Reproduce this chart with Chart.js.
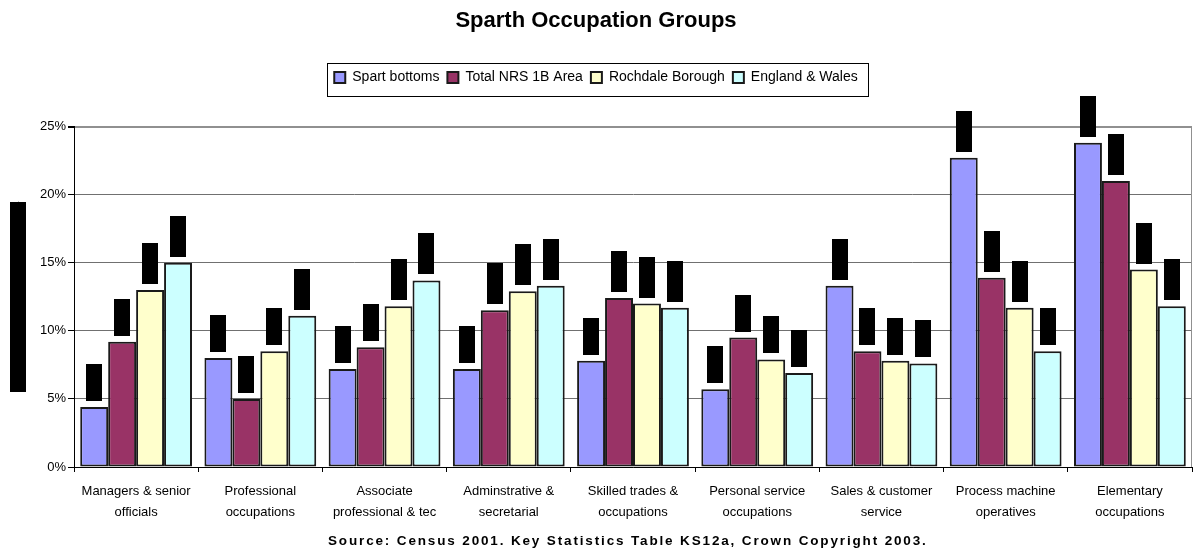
<!DOCTYPE html>
<html>
<head>
<meta charset="utf-8">
<title>Sparth Occupation Groups</title>
<script src="https://cdn.jsdelivr.net/npm/chart.js@4.4.0/dist/chart.umd.min.js"></script>
<style>
  html, body { margin: 0; padding: 0; background: #fff; }
  canvas { display: block; }
</style>
</head>
<body>
<canvas id="grafik" width="1193" height="549"></canvas>
<script>
const kategori = [
    ['Managers & senior', 'officials'],
    ['Professional', 'occupations'],
    ['Associate', 'professional & tec'],
    ['Adminstrative &', 'secretarial'],
    ['Skilled trades &', 'occupations'],
    ['Personal service', 'occupations'],
    ['Sales & customer', 'service'],
    ['Process machine', 'operatives'],
    ['Elementary', 'occupations']
];

const namaSeri = ['Spart bottoms', 'Total NRS 1B Area', 'Rochdale Borough', 'England & Wales'];
const warnaSeri = ['#9999FF', '#993366', '#FFFFCC', '#CCFFFF'];

const spartBottoms = [4.4, 8.0, 7.2, 7.2, 7.8, 5.7, 13.3, 22.7, 23.8];
const totalNrs = [9.2, 5.0, 8.8, 11.5, 12.4, 9.5, 8.5, 13.9, 21.0];
const rochdale = [13.0, 8.5, 11.8, 12.9, 12.0, 7.9, 7.8, 11.7, 14.5];
const englandWales = [15.0, 11.1, 13.7, 13.3, 11.7, 6.9, 7.6, 8.5, 11.8];

const tickY = [0, 5, 10, 15, 20, 25];

const judul = 'Sparth Occupation Groups';
const judulSumbuY = 'Percentage of residents aged 16-74';
const sumber = 'Source: Census 2001. Key Statistics Table KS12a, Crown Copyright 2003.';

const FONT = "'Liberation Sans', Arial, sans-serif";
Chart.defaults.font.family = FONT;
Chart.defaults.color = '#000';

// jarak kosong antara legenda dan area grafik
const jarakLegenda = {
    id: 'jarakLegenda',
    beforeInit(chart) {
        Chart.layouts.addBox(chart, {
            position: 'top',
            weight: 100,
            fullSize: true,
            options: {},
            isHorizontal: () => true,
            update(maxWidth) { this.width = maxWidth; this.height = 32; },
            draw() {}
        });
    }
};

// bingkai legenda, garis kanan, kotak label hitam, judul sumbu Y, sumber
const hiasan = {
    id: 'hiasan',
    afterDatasetsDraw(chart) {
        const ctx = chart.ctx;
        ctx.save();
        chart.data.datasets.forEach((ds, i) => {
            const meta = chart.getDatasetMeta(i);
            meta.data.forEach((bar, j) => {
                const v = ds.data[j];
                const h = v >= 10 ? 41 : 37;
                const top = bar.y - 6 - h;
                ctx.fillStyle = '#000';
                ctx.fillRect(Math.round(bar.x - 8), Math.round(top), 16, h);
                ctx.save();
                ctx.translate(bar.x, top + h / 2);
                ctx.rotate(-Math.PI / 2);
                ctx.font = '11px ' + FONT;
                ctx.textAlign = 'center';
                ctx.textBaseline = 'middle';
                ctx.fillText(v.toFixed(1) + '%', 0, 0);
                ctx.restore();
            });
        });
        ctx.restore();
    },
    afterDraw(chart) {
        const ctx = chart.ctx;
        const area = chart.chartArea;
        ctx.save();

        // garis batas kanan area plot
        ctx.strokeStyle = '#909090';
        ctx.lineWidth = 1;
        ctx.beginPath();
        ctx.moveTo(area.right - 0.5, area.top);
        ctx.lineTo(area.right - 0.5, area.bottom);
        ctx.stroke();

        // bingkai legenda
        const boxes = chart.legend.legendHitBoxes;
        if (boxes && boxes.length) {
            const kiri = Math.min(...boxes.map(b => b.left)) - 7;
            const kanan = Math.max(...boxes.map(b => b.left + b.width)) + 11;
            const atas = boxes[0].top - 7.5;
            const bawah = boxes[0].top + boxes[0].height + 11;
            ctx.strokeStyle = '#000';
            ctx.strokeRect(Math.round(kiri) + 0.5, Math.round(atas) + 0.5, Math.round(kanan - kiri), Math.round(bawah - atas));
        }

        // judul sumbu Y (kotak hitam)
        const cy = (area.top + area.bottom) / 2;
        ctx.fillStyle = '#000';
        ctx.fillRect(10, Math.round(cy - 95), 16, 190);
        ctx.save();
        ctx.translate(18, cy);
        ctx.rotate(-Math.PI / 2);
        ctx.font = '12px ' + FONT;
        ctx.textAlign = 'center';
        ctx.textBaseline = 'middle';
        ctx.fillText(judulSumbuY, 0, 0);
        ctx.restore();

        // teks sumber di bawah
        ctx.font = 'bold 13.5px ' + FONT;
        ctx.letterSpacing = '0px';
        const lebar = ctx.measureText(sumber).width;
        const spasi = (600 - lebar) / sumber.length;
        ctx.letterSpacing = spasi.toFixed(2) + 'px';
        ctx.fillStyle = '#000';
        ctx.textAlign = 'left';
        ctx.textBaseline = 'middle';
        ctx.fillText(sumber, 328, 541);
        ctx.restore();
    }
};

const ctx = document.getElementById('grafik').getContext('2d');

const grafikData = {
    labels: kategori,
    datasets: [spartBottoms, totalNrs, rochdale, englandWales].map((data, i) => ({
        label: namaSeri[i],
        data: data,
        backgroundColor: warnaSeri[i],
        borderColor: '#1a1a1a',
        borderWidth: 2,
        borderSkipped: false,
        categoryPercentage: 0.9,
        barPercentage: 1.0
    }))
};

const grafik = new Chart(ctx, {
    type: 'bar',
    data: grafikData,
    plugins: [jarakLegenda, hiasan],
    options: {
        responsive: false,
        animation: false,
        layout: { padding: { left: 0, right: 1, top: 0, bottom: 24 } },
        plugins: {
            title: {
                display: true,
                text: judul,
                font: { size: 22, weight: 'bold' },
                color: '#000',
                padding: { top: 7.8, bottom: 28.3 }
            },
            legend: {
                display: true,
                position: 'top',
                labels: {
                    boxWidth: 11,
                    boxHeight: 11,
                    padding: 8,
                    font: { size: 14 },
                    color: '#000'
                }
            },
            tooltip: { enabled: false }
        },
        scales: {
            x: {
                afterFit(scale) { scale.height = 58; },
                grid: {
                    drawOnChartArea: false,
                    drawTicks: true,
                    tickLength: 5,
                    color: '#000'
                },
                border: { color: '#000', width: 1 },
                ticks: {
                    font: { size: 13, lineHeight: 1.6 },
                    color: '#000',
                    padding: 9,
                    maxRotation: 0,
                    autoSkip: false
                }
            },
            y: {
                min: 0,
                max: 25,
                afterFit(scale) { scale.width = 74; },
                afterBuildTicks(scale) { scale.ticks = tickY.map(v => ({ value: v })); },
                grid: {
                    color: c => (c.tick && c.tick.value === 25) ? '#909090' : '#707070',
                    lineWidth: c => (c.tick && c.tick.value === 25) ? 2 : 1,
                    tickColor: '#000',
                    tickLength: 6
                },
                border: { color: '#000', width: 1 },
                ticks: {
                    font: { size: 13 },
                    color: '#000',
                    padding: 2,
                    callback: v => v + '%'
                }
            }
        }
    }
});
</script>
</body>
</html>
